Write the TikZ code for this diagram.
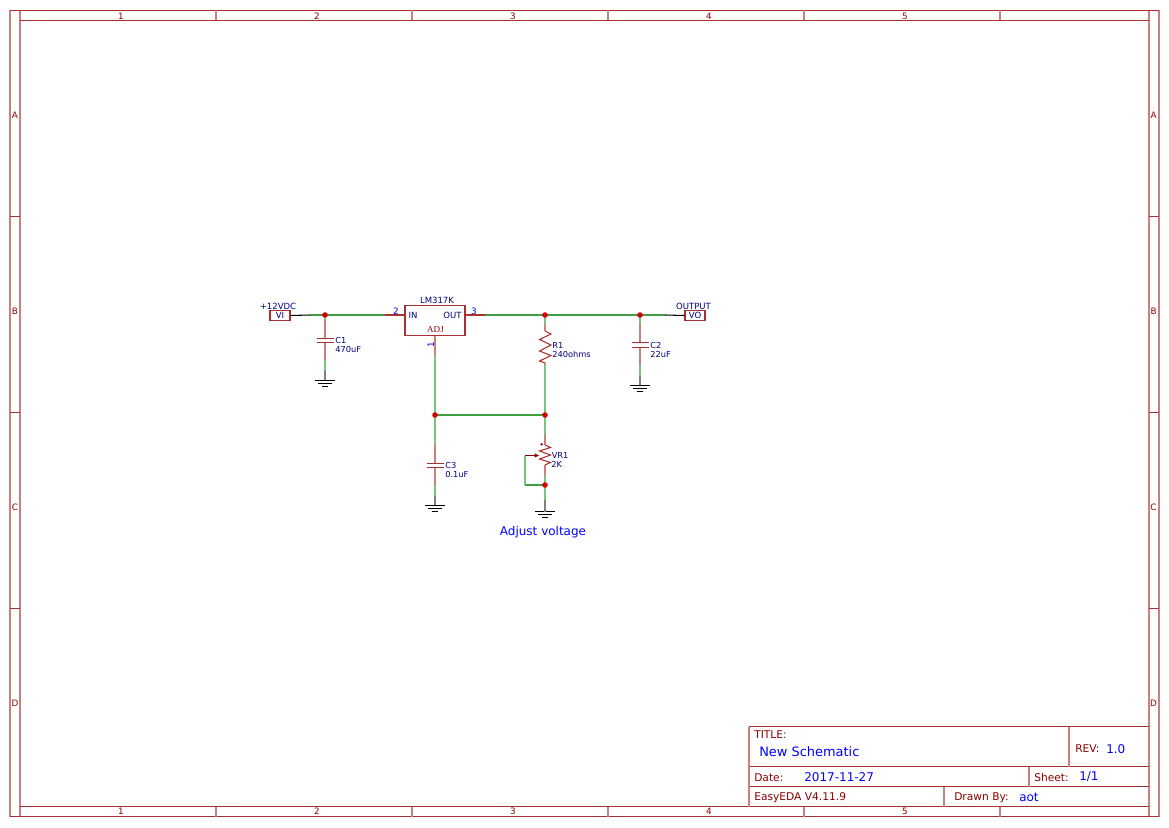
\documentclass[tikz,border=0pt]{standalone}
\usepackage{fontspec}
\setmainfont{DejaVu Sans}
\newfontfamily\adjfont{Liberation Serif}
\usetikzlibrary{positioning, arrows.meta}
\definecolor{sheetred}{HTML}{8B0000}
\definecolor{sheetmid}{HTML}{A83030}
\definecolor{sheetpale}{HTML}{C88080}
\definecolor{netblue}{HTML}{000080}
\definecolor{valblue}{HTML}{0000FF}
\definecolor{wiregreen}{HTML}{3FA03F}
\definecolor{wirepale}{HTML}{7CC47C}

\begin{document}
\begin{tikzpicture}[
        x=0.75pt, y=-0.75pt,
        sheet/.style={draw=sheetmid, line width=0.8pt},
        sheetv/.style={draw=sheetpale, line width=1.1pt},
        wire/.style={draw=wiregreen, line width=1.1pt},
        wirev/.style={draw=wirepale, line width=1.1pt},
        pinwire/.style={draw=sheetmid, line width=0.8pt},
        pinv/.style={draw=sheetpale, line width=1.1pt},
        stub/.style={draw=black, line width=0.8pt},
        stubv/.style={draw=black!50, line width=1.1pt},
        capplate/.style={draw=sheetmid, line width=0.8pt},
        zigzag/.style={draw=sheetmid, line width=0.8pt},
        gndbar/.style={draw=black, line width=0.75pt},
        partbox/.style={draw=sheetmid, line width=0.8pt, inner sep=0pt},
        jdot/.style={circle, fill=red!85!black, inner sep=0pt, minimum size=4.2pt},
        edge label/.style={text=sheetred, font=\fontsize{6.6pt}{7pt}\selectfont, inner sep=0pt},
        part label/.style={text=netblue, font=\fontsize{6.2pt}{7pt}\selectfont, inner sep=0pt, anchor=west},
        net label/.style={text=netblue, font=\fontsize{6.4pt}{7pt}\selectfont, inner sep=0pt},
        pin number/.style={text=valblue, font=\fontsize{6.6pt}{7pt}\selectfont, inner sep=0pt},
        title label/.style={text=sheetred, font=\fontsize{8pt}{9pt}\selectfont, inner sep=0pt, anchor=west},
        title value/.style={text=valblue, font=\fontsize{9pt}{11pt}\selectfont, inner sep=0pt, anchor=west}
      ]
      \useasboundingbox (0,0) rectangle (1169,827);

      % sheet frame
      \foreach \fx in {10,20,1149,1159} {
        \draw[sheetv] (\fx,10.5) -- (\fx,816.5);
      }
      \foreach \fy in {10.5,816.5} {
        \draw[sheet] (10,\fy) -- (1159,\fy);
      }
      \foreach \fy in {20.5,806.5} {
        \draw[sheet] (20,\fy) -- (1149,\fy);
      }
      \foreach \tx in {216,412,608,804,1000} {
        \draw[sheetv] (\tx,10.5) -- (\tx,20.5);
        \draw[sheetv] (\tx,806.5) -- (\tx,816.5);
      }
      \foreach \ty in {216.5,412.5,608.5} {
        \draw[sheet] (10,\ty) -- (20,\ty);
        \draw[sheet] (1149,\ty) -- (1159,\ty);
      }
      \foreach \tx/\lab in {121/1,317/2,513/3,709/4,905/5} {
        \node[edge label] (top\lab) at (\tx,16) {\lab};
        \node[edge label] (bot\lab) at (\tx,811.5) {\lab};
      }
      \foreach \ty/\lab in {115/A,311/B,507/C,703/D} {
        \node[edge label] (left\lab) at (15,\ty) {\lab};
        \node[edge label] (right\lab) at (1153.5,\ty) {\lab};
      }

      % title block
      \draw[sheet] (749,726.5) -- (1149,726.5);
      \draw[sheet] (749,766.5) -- (1149,766.5);
      \draw[sheet] (749,786.5) -- (1149,786.5);
      \draw[sheetv] (749,726.5) -- (749,806.5);
      \draw[sheetv] (1069,726.5) -- (1069,766.5);
      \draw[sheetv] (1029,766.5) -- (1029,786.5);
      \draw[sheetv] (944,786.5) -- (944,806.5);
      \node[title label] (titlekey) at (754,734.5) {TITLE:};
      \node[title value, font=\fontsize{9.7pt}{11pt}\selectfont] (titleval) at (759,752) {New Schematic};
      \node[title label] (revkey) at (1075,749) {REV:};
      \node[title value] (revval) at (1106,749) {1.0};
      \node[title label] (datekey) at (754,777.5) {Date:};
      \node[title value] (dateval) at (804,777) {2017-11-27};
      \node[title label] (sheetkey) at (1034,777.5) {Sheet:};
      \node[title value] (sheetval) at (1079,777) {1/1};
      \node[title label] (edakey) at (754,797.5) {EasyEDA V4.11.9};
      \node[title label] (drawnkey) at (954,797.5) {Drawn By:};
      \node[title value] (drawnval) at (1019,797) {aot};

      % junctions
      \coordinate (jin) at (325,315);
      \coordinate (jout) at (545,315);
      \coordinate (jcap) at (640,315);
      \coordinate (jadj) at (435,415);
      \coordinate (jmid) at (545,415);
      \coordinate (jpot) at (545,485);

      % ports and regulator
      \node[partbox, minimum width=15pt, minimum height=7.5pt, text=netblue, font=\fontsize{6.4pt}{7pt}\selectfont] (vi) at (280,315.5) {VI};
      \node[partbox, minimum width=15pt, minimum height=7.5pt, text=netblue, font=\fontsize{6.4pt}{7pt}\selectfont] (vo) at (695,315.5) {VO};
      \node[partbox, minimum width=45pt, minimum height=22.5pt] (reg) at (435,320.5) {};
      \node[net label] (viname) at (278,306) {+12VDC};
      \node[net label] (voname) at (693.5,306) {OUTPUT};
      \node[net label] (regname) at (437,300.5) {LM317K};
      \node[net label] (regin) at (413,315.5) {IN};
      \node[net label] (regout) at (452.5,315.5) {OUT};
      \node[text=sheetred, inner sep=0pt, font=\adjfont\fontsize{6.8pt}{7pt}\selectfont] (regadj) at (435.5,330) {ADJ};
      \node[pin number] (pintwo) at (396,311) {2};
      \node[pin number] (pinthree) at (474,311) {3};
      \node[pin number, rotate=90] (pinone) at (431,345) {1};

      % wire ends
      \coordinate (viend) at (310,315);
      \coordinate (inpin) at (385,315);
      \coordinate (outpin) at (485,315);
      \coordinate (voend) at (665,315);
      \coordinate (adjpin) at (435,355);
      \draw[stub] (vi.east) -- (viend);
      \draw[wire] (viend) -- (jin);
      \draw[wire] (jin) -- (inpin);
      \draw[pinwire] (inpin) -- (reg.west |- inpin);
      \draw[pinwire] (reg.east |- outpin) -- (outpin);
      \draw[wire] (outpin) -- (jout);
      \draw[wire] (jout) -- (jcap);
      \draw[wire] (jcap) -- (voend);
      \draw[stub] (voend) -- (vo.west);
      \draw[pinv] (reg.south) -- (adjpin);
      \draw[wirev] (adjpin) -- (jadj);
      \draw[wire] (jadj) -- (jmid);

      % capacitors: column, top of leg, plates, bottom of leg, ground
      \foreach \cname/\cx/\ctop/\cbot/\gnd in {cone/325/338.5/342.5/380.5, ctwo/640/342.5/347.5/385.5, cthree/435/463.5/467.5/505.5} {
        \coordinate (\cname a) at (\cx,\ctop);
        \coordinate (\cname b) at (\cx,\cbot);
        \draw[pinv] (\cname a) -- ++(0,-18.5) coordinate (\cname c);
        \draw[pinv] (\cname b) -- ++(0,17.5) coordinate (\cname d);
        \draw[wirev] (\cname d) -- (\cx,\gnd-10) coordinate (\cname e);
        \draw[stubv] (\cname e) -- (\cx,\gnd) coordinate (\cname g);
        \draw[capplate] (\cx-8.5,\ctop) -- (\cx+8.5,\ctop);
        \draw[capplate] (\cx-8.5,\cbot) -- (\cx+8.5,\cbot);
      }
      \draw[wirev] (jin) -- (conec);
      \draw[wirev] (jcap) -- (ctwoc);
      \draw[wirev] (jadj) -- (cthreec);

      % grounds
      \coordinate (gndpot) at (545,511.5);
      \foreach \gname in {coneg, ctwog, cthreeg, gndpot} {
        \draw[gndbar] ([xshift=-7.5pt]\gname) -- ([xshift=7.5pt]\gname);
        \draw[gndbar] ([xshift=-5pt,yshift=-2.25pt]\gname) -- ([xshift=5pt,yshift=-2.25pt]\gname);
        \draw[gndbar] ([xshift=-2pt,yshift=-4.5pt]\gname) -- ([xshift=2pt,yshift=-4.5pt]\gname);
      }

      % R1
      \coordinate (rtop) at (545,325);
      \coordinate (rbot) at (545,365);
      \draw[wirev] (jout) -- (rtop);
      \draw[zigzag] (545,331) -- (551,334) -- (539.5,339.5) -- (551,345) -- (539.5,351) -- (551,355.5) -- (539.5,361) -- (545,363);
      \draw[pinv] (rtop) -- (545,331);
      \draw[pinv] (545,363) -- (rbot);
      \draw[wirev] (rbot) -- (jmid);

      % VR1
      \coordinate (vrtop) at (545,435);
      \coordinate (vrbot) at (545,475);
      \coordinate (wipe) at (525,455.5);
      \coordinate (gndwire) at (545,500);
      \draw[wirev] (jmid) -- (vrtop);
      \draw[pinv] (vrtop) -- (545,445);
      \draw[zigzag] (545,445) -- (550.5,447.5) -- (539.5,451) -- (550.5,455) -- (539.5,459) -- (550.5,462.5) -- (545,465);
      \draw[pinv] (545,465) -- (vrbot);
      \draw[wirev] (vrbot) -- (jpot);
      \draw[wirev] (jpot) -- (gndwire);
      \draw[stubv] (gndwire) -- (gndpot);
      \draw[wirev] (wipe) -- (wipe |- jpot);
      \draw[wire] (wipe |- jpot) -- (jpot);
      \draw[draw=sheetred, line width=0.75pt, -{Latex[length=3.6pt,width=3.4pt]}] (wipe) -- (539.5,455.5);
      \node[circle, fill=sheetred, inner sep=0pt, minimum size=2pt] (vrmark) at (541.7,444.3) {};

      % junction dots
      \foreach \jname in {jin,jout,jcap,jadj,jmid,jpot} {
        \node[jdot] (\jname dot) at (\jname) {};
      }

      % part labels
      \node[part label] (cone) at (335,340.5) {C1};
      \node[part label] (coneval) at (335,349.5) {470uF};
      \node[part label] (ctwo) at (650,345) {C2};
      \node[part label] (ctwoval) at (650,354.5) {22uF};
      \node[part label] (cthree) at (445,465.5) {C3};
      \node[part label] (cthreeval) at (445,474.5) {0.1uF};
      \node[part label] (rone) at (552,345) {R1};
      \node[part label] (roneval) at (552,354.5) {240ohms};
      \node[part label] (vrone) at (551.5,455.5) {VR1};
      \node[part label] (vroneval) at (551,464.5) {2K};
      \node[text=valblue, font=\fontsize{9pt}{11pt}\selectfont, inner sep=0pt] (adjnote) at (543,532) {Adjust voltage};
      \end{tikzpicture}
\end{document}
